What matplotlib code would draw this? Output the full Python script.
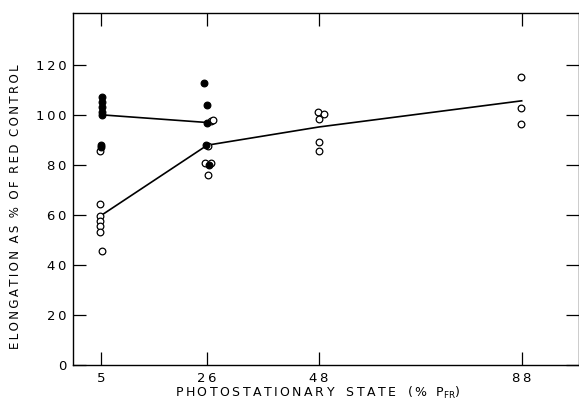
import matplotlib
matplotlib.use("Agg")
import matplotlib.pyplot as plt

# 1. data ---------------------------------------------------------------------------------------------/
# photostationary state (% Pfr) and elongation (% of red control)
filled_x = [5.2, 5.2, 5.2, 5.2, 5.2, 5.0, 5.0, 25.4, 26.0, 26.0, 25.8, 26.3]
filled_y = [107.5, 105.5, 103.5, 101.5, 100.0, 88.2, 87.4, 113.0, 104.0, 97.0, 88.2, 80.2]
open_x = [4.9, 4.8, 4.9, 4.8, 4.8, 4.8, 5.2, 26.8, 27.1, 26.1, 25.6, 26.8, 26.2,
          47.9, 49.0, 48.1, 48.1, 48.1, 87.8, 87.8, 87.8]
open_y = [85.5, 64.5, 59.4, 57.4, 55.4, 53.1, 45.6, 97.7, 98.0, 87.8, 80.8, 80.8, 76.1,
          101.2, 100.6, 98.5, 89.1, 85.5, 115.2, 102.9, 96.5]
# mean lines
filled_mean_x = [5, 26]
filled_mean_y = [100.2, 97.1]
open_mean_x = [5, 26, 48, 88]
open_mean_y = [59.7, 88.0, 95.3, 105.8]

x_ticks = [5, 26, 48, 88]
y_ticks = [0, 20, 40, 60, 80, 100, 120]


# 2. helpers ------------------------------------------------------------------------------------------/
# wide letter spacing like the typewriter lettering of the original
def spaced(text):
    return '\u2009'.join(text)


# 3. plot ---------------------------------------------------------------------------------------------/
plt.rcParams['font.family'] = ['DejaVu Sans']
fig = plt.figure(figsize=(5.79, 4.03), dpi=100)
ax = fig.add_axes([0.1266, 0.0953, 0.8734, 0.8723])

ax.plot(filled_mean_x, filled_mean_y, color='black', linewidth=1.2, zorder=2)
ax.plot(open_mean_x, open_mean_y, color='black', linewidth=1.2, zorder=2)
ax.plot(open_x, open_y, linestyle='none', marker='o', markersize=4.8,
        markerfacecolor='white', markeredgecolor='black', markeredgewidth=0.9, zorder=3)
ax.plot(filled_x, filled_y, linestyle='none', marker='o', markersize=4.8,
        markerfacecolor='black', markeredgecolor='black', markeredgewidth=0.9, zorder=4)

# lim / ticks
ax.set_xlim(-0.4, 99.3)
ax.set_ylim(0, 141)
ax.set_xticks(x_ticks)
ax.set_yticks(y_ticks)
ax.set_xticklabels([spaced(str(t)) for t in x_ticks], fontsize=9.5)
ax.set_yticklabels([spaced(str(t)) for t in y_ticks], fontsize=9.5)
ax.tick_params(direction='in', length=9.5, width=0.9, top=True, right=True, pad=5)

for side in ax.spines:
    ax.spines[side].set_linewidth(1.0)

# labels
ax.set_xlabel(spaced('PHOTOSTATIONARY') + '   ' + spaced('STATE') + '   ' + spaced('(% P')
              + '$_{\\mathregular{FR}}$' + ')', fontsize=9)
ax.xaxis.set_label_coords(0.484, -0.081)
ax.xaxis.label.set_va('center')
ax.set_ylabel('  '.join(spaced(w) for w in 'ELONGATION AS % OF RED CONTROL'.split()), fontsize=8.5)
ax.yaxis.set_label_coords(-0.114, 0.448)
ax.yaxis.label.set_va('center')

fig.savefig('out.png', dpi=100)
